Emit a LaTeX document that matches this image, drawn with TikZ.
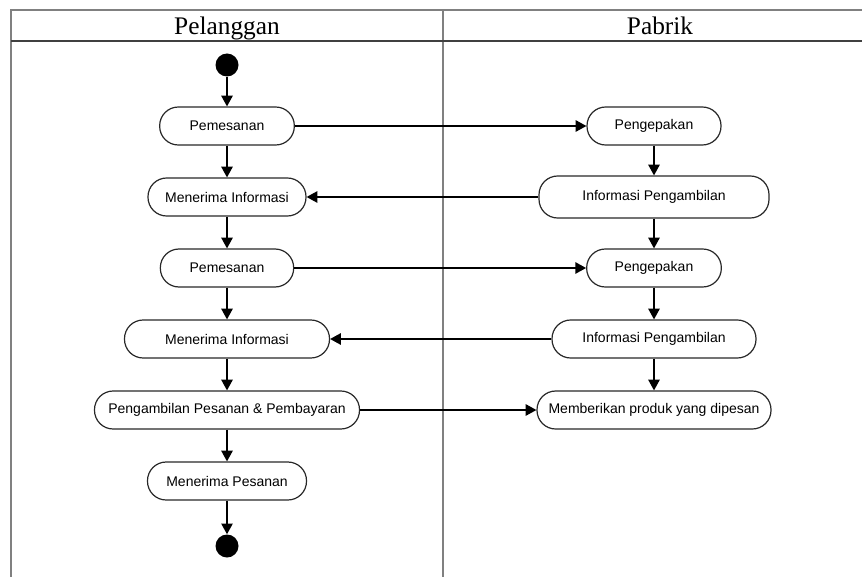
\documentclass[tikz,border=0pt]{standalone}
\usepackage{fontspec}
\setmainfont{Liberation Serif}
\setsansfont{Liberation Sans}
\usetikzlibrary{arrows.meta}
\definecolor{lanegray}{RGB}{128,128,128}
\definecolor{headgray}{RGB}{64,64,64}
\definecolor{boxline}{RGB}{40,40,40}
\tikzstyle{act} = [rectangle, rounded corners=14pt, minimum height=28.5pt, text centered, draw=boxline, line width=0.9pt, fill=white, font=\sffamily\fontsize{10.5pt}{12pt}\selectfont]
\tikzstyle{dot} = [circle, minimum size=17.25pt, inner sep=0pt, fill=black]
\tikzstyle{arrow} = [line width=1.1pt, -{Triangle[length=8pt,width=8.5pt]}]
\tikzstyle{lane} = [line width=1.1pt, draw=lanegray]
\tikzstyle{lanehead} = [line width=1.1pt, draw=headgray]
\tikzstyle{lanetitle} = [font=\fontsize{19pt}{22pt}\selectfont, anchor=base]
\begin{document}
\begin{tikzpicture}[x=0.75pt, y=-0.75pt, node distance=53.25pt]
\useasboundingbox (0,0) rectangle (862,577);

\draw [lane] (11,577) -- (11,10) -- (862,10);
\draw [lane] (443,10) -- (443,577);
\draw [lanehead] (11,41) -- (862,41);

\node (pelanggan) [lanetitle] at (227,35) {Pelanggan};
\node (pabrik) [lanetitle] at (660,35) {Pabrik};

\node (p1) [act, minimum width=101pt] at (227,126) {Pemesanan};
\node (start) [dot, above of=p1, yshift=-7.5pt] {};
\node (m1) [act, minimum width=118.5pt, below of=p1] {Menerima Informasi};
\node (p2) [act, minimum width=100pt, below of=m1] {Pemesanan};
\node (m2) [act, minimum width=153.75pt, below of=p2] {Menerima Informasi};
\node (pp) [act, minimum width=198.75pt, below of=m2] {Pengambilan Pesanan \& Pembayaran};
\node (mp) [act, minimum width=119.25pt, below of=pp] {Menerima Pesanan};
\node (stop) [dot, below of=mp, yshift=4.5pt] {};

\node (k1) [act, minimum width=100.5pt, right of=p1, node distance=320.25pt] {Pengepakan};
\node (i1) [act, minimum width=172.5pt, minimum height=31.5pt, below of=k1] {Informasi Pengambilan};
\node (k2) [act, minimum width=101pt, below of=i1] {Pengepakan};
\node (i2) [act, minimum width=153pt, below of=k2] {Informasi Pengambilan};
\node (b) [act, minimum width=175.5pt, below of=i2] {Memberikan produk yang dipesan};

\draw [arrow] (start) -- (p1);
\draw [arrow] (p1) -- (m1);
\draw [arrow] (m1) -- (p2);
\draw [arrow] (p2) -- (m2);
\draw [arrow] (m2) -- (pp);
\draw [arrow] (pp) -- (mp);
\draw [arrow] (mp) -- (stop);

\draw [arrow] (k1) -- (i1);
\draw [arrow] (i1) -- (k2);
\draw [arrow] (k2) -- (i2);
\draw [arrow] (i2) -- (b);

\draw [arrow] (p1) -- (k1);
\draw [arrow] (i1) -- (m1);
\draw [arrow] (p2) -- (k2);
\draw [arrow] (i2) -- (m2);
\draw [arrow] (pp) -- (b);

\end{tikzpicture}
\end{document}
